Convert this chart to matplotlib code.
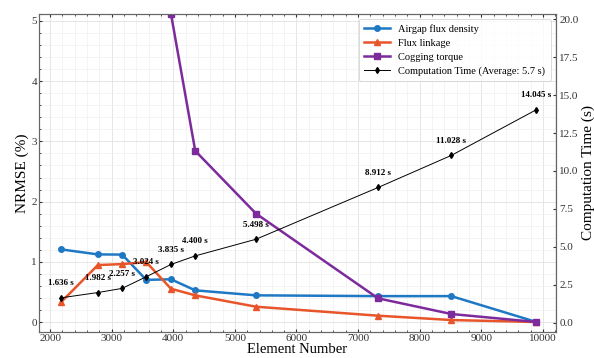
import matplotlib
matplotlib.use('Agg')
from matplotlib import pyplot as plt
from matplotlib.ticker import AutoMinorLocator

plt.rcParams['font.family'] = ['Liberation Serif', 'DejaVu Serif']

# element counts of the meshes
elements = [2178, 2775, 3169, 3561, 3962, 4356, 5343, 7325, 8514, 9896]

# NRMSE (%) against the finest mesh
airgap = [1.206, 1.123, 1.120, 0.700, 0.710, 0.526, 0.443, 0.430, 0.430, 0.0]
flux = [0.330, 0.946, 0.962, 0.995, 0.553, 0.443, 0.254, 0.105, 0.033, 0.0]
cogging_x = [3962, 4356, 5343, 7325, 8514, 9896]
cogging = [5.12, 2.843, 1.800, 0.393, 0.133, 0.0]

# computation time (s)
comp_time = [1.636, 1.982, 2.257, 3.024, 3.835, 4.400, 5.498, 8.912, 11.028, 14.045]
avg_time = sum(comp_time) / len(comp_time)

BLUE = '#1f78c4'
ORANGE = '#e8552b'
PURPLE = '#7d2a9c'


def main() -> None:
    fig = plt.figure(figsize=(5.94, 3.58), dpi=100)
    ax = fig.add_axes([0.0657, 0.0726, 0.870, 0.889])
    ax2 = ax.twinx()

    l1, = ax.plot(elements, airgap, color=BLUE, lw=1.8, marker='o', ms=4,
                  label='Airgap flux density')
    l2, = ax.plot(elements, flux, color=ORANGE, lw=1.8, marker='^', ms=4,
                  label='Flux linkage')
    l3, = ax.plot(cogging_x, cogging, color=PURPLE, lw=1.8, marker='s', ms=4,
                  label='Cogging torque')
    l4, = ax2.plot(elements, comp_time, color='black', lw=0.7, marker='d', ms=3,
                   label=f'Computation Time (Average: {avg_time:.1f} s)')

    for x, t in zip(elements, comp_time):
        ax2.annotate(f'{t:.3f} s', (x, t), xytext=(0, 10.5),
                     textcoords='offset points', ha='center', va='center',
                     fontsize=6.5, fontweight='bold')

    ax.set_xlim(1820, 10210)
    ax.set_ylim(-0.166, 5.12)
    ax2.set_ylim(-0.62, 20.37)
    ax.set_xticks(range(2000, 10001, 1000))
    ax.set_yticks([0, 1, 2, 3, 4, 5])
    ax2.set_yticks([0, 2.5, 5, 7.5, 10, 12.5, 15, 17.5, 20])
    ax2.set_yticklabels([f'{v:.1f}' for v in ax2.get_yticks()])

    ax.xaxis.set_minor_locator(AutoMinorLocator(5))
    ax.yaxis.set_minor_locator(AutoMinorLocator(5))
    ax.grid(which='major', color='#e2e2e2', lw=0.6)
    ax.grid(which='minor', color='#f0f0f0', lw=0.5)
    ax.set_axisbelow(True)

    ax.tick_params(which='both', direction='in', top=True, labelsize=8,
                   colors='#333333', length=2.5, pad=1.5)
    ax.tick_params(which='minor', length=1.5)
    ax2.tick_params(direction='in', labelsize=8, colors='#333333', length=2.5,
                    pad=2.5)
    for a in (ax, ax2):
        for s in a.spines.values():
            s.set_color('#666666')
            s.set_linewidth(0.8)

    ax.set_xlabel('Element Number', fontsize=10.5, labelpad=0)
    ax.set_ylabel('NRMSE (%)', fontsize=11, labelpad=2)
    ax2.set_ylabel('Computation Time (s)', fontsize=11, labelpad=2)

    leg = ax2.legend(handles=[l1, l2, l3, l4], loc='upper right', fontsize=7.5,
                     frameon=True, fancybox=True, borderpad=0.5,
                     handlelength=2.5, labelspacing=0.45)
    leg.get_frame().set_edgecolor('#cccccc')
    leg.get_frame().set_linewidth(0.6)

    fig.savefig('out.png', dpi=100)


if __name__ == '__main__':
    main()
